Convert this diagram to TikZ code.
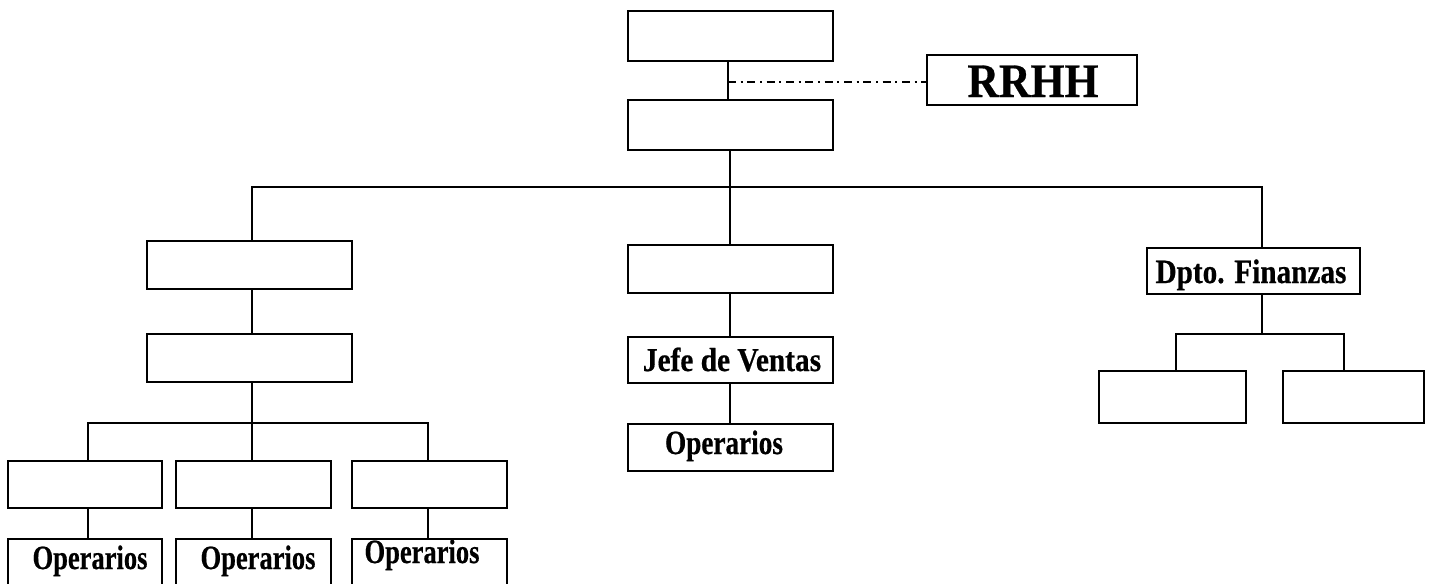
\documentclass[tikz,border=0pt]{standalone}
\usepackage{fontspec}
\setmainfont{Liberation Serif}[BoldFeatures={FakeBold=0.6}]
\usepackage{graphicx}
\tikzset{
  bw/.style={minimum width=#1*0.75pt},
  bh/.style={minimum height=#1*0.75pt},
  box/.style={draw, line width=1.5pt, inner sep=0pt},
  conn/.style={line width=1.6pt},
  dashdot/.style={line width=1.2pt, dash pattern=on 6pt off 3.5pt on 1.5pt off 3.5pt},
  lbl/.style={inner sep=0pt, anchor=base},
  opf/.style={font=\bfseries\fontsize{25.5}{28}\selectfont},
}
\newcommand{\sq}[2]{\scalebox{#1}[1]{#2}}
\begin{document}
\begin{tikzpicture}[x=0.75pt,y=-0.75pt]
\useasboundingbox (0,0) rectangle (1429,583);
\clip (0,0) rectangle (1429,583);
% boxes
\node[box,bw=205,bh=50] (top) at (730.5,36) {};
\node[box,bw=210,bh=50] (rrhh) at (1032,80) {};
\node[box,bw=205,bh=50] (second) at (730.5,125) {};
\node[box,bw=205,bh=48] (L1) at (249.5,265) {};
\node[box,bw=205,bh=48] (M1) at (730.5,269) {};
\node[box,bw=213,bh=46] (R1) at (1253.5,271) {};
\node[box,bw=205,bh=48] (L2) at (249.5,358) {};
\node[box,bw=154,bh=47] (B1) at (85,484) {};
\node[box,bw=155,bh=47] (B2) at (253.5,484) {};
\node[box,bw=155,bh=47] (B3) at (429.5,484) {};
\node[box,bw=154,bh=50] (O1) at (85,564) {};
\node[box,bw=155,bh=50] (O2) at (253.5,564) {};
\node[box,bw=155,bh=50] (O3) at (429.5,564) {};
\node[box,bw=205,bh=46] (M2) at (730.5,360) {};
\node[box,bw=205,bh=47] (M3) at (730.5,447.5) {};
\node[box,bw=147,bh=52] (R2a) at (1172.5,397) {};
\node[box,bw=141,bh=52] (R2b) at (1353,397) {};
% labels
\node[lbl,font=\bfseries\fontsize{36}{40}\selectfont] (trrhh) at (1033,97) {\sq{0.91}{RRHH}};
\node[lbl,font=\bfseries\fontsize{25.5}{28}\selectfont] (tR1) at (1251,283) {\sq{0.86}{Dpto. Finanzas}};
\node[lbl,font=\bfseries\fontsize{25}{28}\selectfont] (tM2) at (732,371) {\sq{0.88}{Jefe de Ventas}};
\node[lbl,opf] (tM3) at (724,454) {\sq{0.80}{Operarios}};
\node[lbl,opf] (tO1) at (90,569) {\sq{0.78}{Operarios}};
\node[lbl,opf] (tO2) at (258,569) {\sq{0.78}{Operarios}};
\node[lbl,opf] (tO3) at (422,563) {\sq{0.78}{Operarios}};
% coordinates
\coordinate (j) at (728,82);
\coordinate (colL) at (252,265);
\coordinate (bus1) at (730,187);
\coordinate (busL) at (252,423);
\coordinate (c1) at (88,423);
\coordinate (c3) at (428,423);
\coordinate (busR) at (1262,334);
\coordinate (r1) at (1176,334);
\coordinate (r2) at (1344,334);
% connectors
\draw[conn] (j |- top.south) -- (j |- second.north);
\draw[dashdot] (j) -- (j -| rrhh.west);
\draw[conn] (bus1 |- second.south) -- (bus1);
\draw[conn] (colL |- L1.north) |- (bus1) -| (busR |- R1.north);
\draw[conn] (bus1) -- (bus1 |- M1.north);
\draw[conn] (colL |- L1.south) -- (colL |- L2.north);
\draw[conn] (busL |- L2.south) -- (busL);
\draw[conn] (c1 |- B1.north) -- (c1) -- (c3) -- (c3 |- B3.north);
\draw[conn] (busL) -- (busL |- B2.north);
\draw[conn] (c1 |- B1.south) -- (c1 |- O1.north);
\draw[conn] (busL |- B2.south) -- (busL |- O2.north);
\draw[conn] (c3 |- B3.south) -- (c3 |- O3.north);
\draw[conn] (bus1 |- M1.south) -- (bus1 |- M2.north);
\draw[conn] (bus1 |- M2.south) -- (bus1 |- M3.north);
\draw[conn] (busR |- R1.south) -- (busR);
\draw[conn] (r1 |- R2a.north) -- (r1) -- (r2) -- (r2 |- R2b.north);
\end{tikzpicture}
\end{document}
